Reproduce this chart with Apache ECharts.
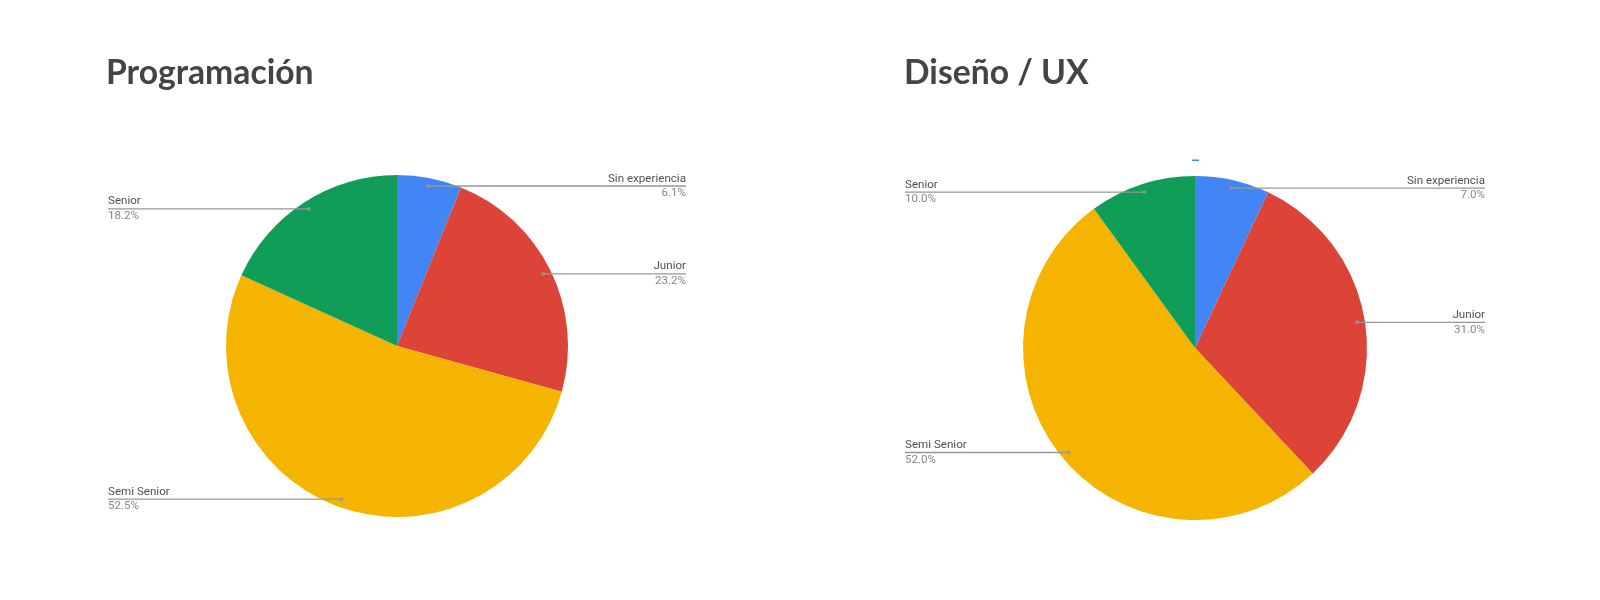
<!DOCTYPE html>
<html>
<head>
<meta charset="utf-8">
<title>Nivel de experiencia</title>
<script src="https://cdn.jsdelivr.net/npm/echarts@6/dist/echarts.min.js"></script>
<style>
  html, body { margin: 0; padding: 0; background: #ffffff; }
  #chart { width: 1600px; height: 600px; }
</style>
</head>
<body>
<div id="chart"></div>
<script>
// Experience levels, shares in percent
const categories = ['Sin experiencia', 'Junior', 'Semi Senior', 'Senior'];
const programacion = [6.1, 23.2, 52.5, 18.2];
const disenoUx = [7.0, 31.0, 52.0, 10.0];
const chartTitles = ['Programación', 'Diseño / UX'];
const sliceColors = ['#4285F4', '#DB4437', '#F4B400', '#0F9D58'];

// Layout of the two panels
const panels = [
  { center: [397, 346], radius: 171, labelLeft: 108, labelRight: 686, titleLeft: 106 },
  { center: [1195, 348], radius: 172, labelLeft: 905, labelRight: 1485, titleLeft: 904 }
];
const anchorRatio = 0.953; // where the leader lines start, as a share of the radius
const lineColor = '#979797';

function pieData(values) {
  return categories.map((name, i) => ({ name: name, value: values[i] }));
}

// Mid point of each slice along the angle axis (0..100 clockwise from the top)
function sliceMids(values) {
  const total = values.reduce((a, b) => a + b, 0);
  let acc = 0;
  return values.map(v => {
    const mid = (acc + v / 2) / total * 100;
    acc += v;
    return [anchorRatio, mid];
  });
}

const datasets = [programacion, disenoUx];

const option = {
  animation: false,
  color: sliceColors,
  title: panels.map((p, i) => ({
    text: chartTitles[i],
    left: p.titleLeft,
    top: 56,
    padding: 0,
    textStyle: { fontFamily: 'Lato', fontWeight: 'bold', fontSize: 33.7, color: '#444444' }
  })),
  polar: panels.map(p => ({ center: p.center, radius: p.radius })),
  angleAxis: panels.map((p, i) => ({
    polarIndex: i, type: 'value', min: 0, max: 100, startAngle: 90, clockwise: true, show: false
  })),
  radiusAxis: panels.map((p, i) => ({
    polarIndex: i, type: 'value', min: 0, max: 1, show: false
  })),
  graphic: [{
    type: 'rect',
    shape: { x: 1192, y: 159.5, width: 7, height: 1.5 },
    style: { fill: '#4285F4' },
    silent: true
  }],
  series: []
};

panels.forEach((p, i) => {
  const values = datasets[i];
  // Visible slices
  option.series.push({
    type: 'pie',
    center: p.center,
    radius: p.radius,
    startAngle: 90,
    clockwise: true,
    silent: true,
    label: { show: false },
    labelLine: { show: false },
    itemStyle: { borderWidth: 0 },
    emphasis: { disabled: true },
    data: pieData(values)
  });
  // Labels with leader lines, anchored slightly inside each slice
  option.series.push({
    type: 'pie',
    left: p.labelLeft,
    top: 0,
    width: p.labelRight - p.labelLeft,
    height: 600,
    center: [p.center[0] - p.labelLeft, p.center[1]],
    radius: p.radius * anchorRatio,
    startAngle: 90,
    clockwise: true,
    silent: true,
    z: 3,
    itemStyle: { color: 'rgba(0,0,0,0)', borderWidth: 0 },
    emphasis: { disabled: true },
    label: {
      show: true,
      position: 'outside',
      alignTo: 'edge',
      edgeDistance: 0,
      distanceToLabelLine: 0,
      formatter: params => '{n|' + params.name + '}\n{u| }\n{p|' + params.value.toFixed(1) + '%}',
      rich: {
        n: { fontFamily: 'Roboto', fontSize: 11.6, lineHeight: 13.5, color: '#505050' },
        u: { width: '100%', height: 1.3, lineHeight: 1.3, fontSize: 1, backgroundColor: lineColor },
        p: { fontFamily: 'Roboto', fontSize: 11.6, lineHeight: 13.5, color: '#878787' }
      }
    },
    labelLine: {
      show: true,
      length: 0,
      length2: 0,
      smooth: false,
      lineStyle: { color: lineColor, width: 1.3 }
    },
    data: pieData(values)
  });
  // Anchor dots at the start of each leader line
  option.series.push({
    type: 'scatter',
    coordinateSystem: 'polar',
    polarIndex: i,
    symbol: 'circle',
    symbolSize: 4,
    silent: true,
    z: 4,
    itemStyle: { color: lineColor },
    data: sliceMids(values)
  });
});

const chart = echarts.init(document.getElementById('chart'), null, { renderer: 'canvas' });
chart.setOption(option);
</script>
</body>
</html>
